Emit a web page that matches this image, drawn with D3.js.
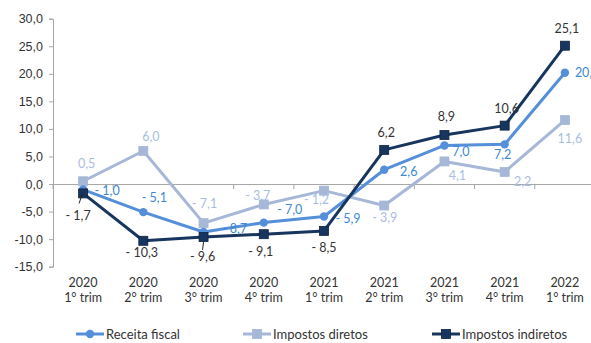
<!DOCTYPE html>
<html>
<head>
<meta charset="utf-8">
<script src="https://cdn.jsdelivr.net/npm/d3@7"></script>
<style>
  html, body { margin: 0; padding: 0; background: #fff; }
  svg { display: block; font-family: "Lato", "DejaVu Sans", sans-serif; }
</style>
</head>
<body>
<svg id="chart" width="591" height="343"></svg>
<script>
// Quarterly year-on-year variation (%)
const years = ["2020", "2020", "2020", "2020", "2021", "2021", "2021", "2021", "2022"];
const quarters = ["1° trim", "2° trim", "3° trim", "4° trim", "1° trim", "2° trim", "3° trim", "4° trim", "1° trim"];
const receitaFiscal = [-1.0, -5.1, -8.7, -7.0, -5.9, 2.6, 7.0, 7.2, 20.2];
const impostosDiretos = [0.5, 6.0, -7.1, -3.7, -1.2, -3.9, 4.1, 2.2, 11.6];
const impostosIndiretos = [-1.7, -10.3, -9.6, -9.1, -8.5, 6.2, 8.9, 10.6, 25.1];
const yTicks = [-15, -10, -5, 0, 5, 10, 15, 20, 25, 30];
const seriesNames = ["Receita fiscal", "Impostos diretos", "Impostos indiretos"];

// Label placement per point: [dx, dy] of the label centre from the marker
const labelPos = {
  receita: [[24, 0.5], [11, -14.5], [31, -3], [26, -13.6], [24, 1.5], [24.5, 1.3], [16.5, 6.3], [-2, 9.7], [null, 0]],
  diretos: [[3.5, -18], [7.5, -14], [1, -19.4], [-6, -9.4], [-7.5, 8.7], [0.5, 11.8], [13, 13.6], [18, 10], [5, 18]],
  indiretos: [[-5, 21.6], [-1.5, 12], [-1, 19.8], [-3, 17.6], [0, 17], [2, -17], [2, -18], [2, -17.6], [2, -17.7]]
};

const fmt = v => (v < 0 ? "- " : "") + d3.format(".1f")(Math.abs(v)).replace(".", ",");

const svg = d3.select("#chart");
const margin = { left: 53, right: -4, top: 18.7, bottom: 76.3 };
const W = 591, H = 343;
const FS = 12.5;

const x = d3.scaleBand()
  .domain(d3.range(years.length))
  .range([margin.left, W - margin.right])
  .paddingInner(0).paddingOuter(0);

const y = d3.scaleLinear()
  .domain([-15, 30])
  .range([H - margin.bottom, margin.top]);

const cx = i => x(i) + x.bandwidth() / 2;

// Y axis
const yAxis = d3.axisLeft(y)
  .tickValues(yTicks)
  .tickSize(4)
  .tickPadding(6)
  .tickFormat(d => d3.format(".1f")(d).replace(".", ",").replace("−", "-"));
const yg = svg.append("g").attr("transform", `translate(${margin.left},0)`).call(yAxis);
yg.select(".domain").attr("stroke", "#a6a6a6").attr("stroke-width", 1);
yg.selectAll(".tick line").attr("stroke", "#a6a6a6");
yg.selectAll(".tick text").attr("fill", "#333").attr("font-size", FS);

// Zero line with category separators
const xAxis = d3.axisBottom(x).tickValues([]).tickSizeOuter(0);
const xg = svg.append("g").attr("transform", `translate(0,${y(0)})`).call(xAxis);
xg.select(".domain").attr("stroke", "#a6a6a6").attr("stroke-width", 1);
xg.selectAll(".sep")
  .data(d3.range(years.length + 1))
  .join("line")
  .attr("class", "sep")
  .attr("x1", i => margin.left + i * x.step())
  .attr("x2", i => margin.left + i * x.step())
  .attr("y1", 0).attr("y2", 5)
  .attr("stroke", "#a6a6a6");

// Category labels (two lines)
const cats = svg.append("g").attr("fill", "#333").attr("font-size", FS).attr("text-anchor", "middle");
cats.selectAll(".yr").data(years).join("text")
  .attr("class", "yr")
  .attr("x", (d, i) => cx(i)).attr("y", 287).text(d => d);
cats.selectAll(".qt").data(quarters).join("text")
  .attr("class", "qt")
  .attr("x", (d, i) => cx(i)).attr("y", 302).text(d => d);

const series = [
  { key: "diretos", values: impostosDiretos, color: "#a7b7d8", label: "#a9bde2", marker: "square", edge: "#a7b7d8" },
  { key: "receita", values: receitaFiscal, color: "#558ed9", label: "#3d88d2", marker: "circle", edge: "#558ed9" },
  { key: "indiretos", values: impostosIndiretos, color: "#17355e", label: "#333333", marker: "square", edge: "#0e2440" }
];

const line = d3.line().x((d, i) => cx(i)).y(d => y(d));

function drawMarker(g, s, px, py) {
  if (s.marker === "circle") {
    g.append("circle").attr("cx", px).attr("cy", py).attr("r", 4.2).attr("fill", s.color);
  } else {
    g.append("rect").attr("x", px - 4.5).attr("y", py - 4.5).attr("width", 9).attr("height", 9)
      .attr("fill", s.color).attr("stroke", s.edge).attr("stroke-width", 0.8);
  }
}

series.forEach(s => {
  const g = svg.append("g");
  g.append("path").datum(s.values).attr("d", line)
    .attr("fill", "none").attr("stroke", s.color).attr("stroke-width", 3).attr("stroke-linejoin", "round");
  s.values.forEach((v, i) => drawMarker(g, s, cx(i), y(v)));
});

// Leader lines for labels pushed away from their markers
const leaders = svg.append("g").attr("stroke", "#222").attr("stroke-width", 1);
[[0, -4, 10, -0.7, 0], [2, -1, 13, 0, 4.8]].forEach(([i, x1, y1, x2, y2]) => {
  const px = cx(i), py = y(impostosIndiretos[i]);
  leaders.append("line")
    .attr("x1", px + x1).attr("y1", py + y1)
    .attr("x2", px + x2).attr("y2", py + y2);
});

// Data labels
series.forEach(s => {
  svg.append("g").attr("fill", s.label).attr("font-size", FS)
    .selectAll("text").data(s.values).join("text")
    .attr("text-anchor", (d, i) => labelPos[s.key][i][0] === null ? "start" : "middle")
    .attr("x", (d, i) => labelPos[s.key][i][0] === null ? cx(i) + 10 : cx(i) + labelPos[s.key][i][0])
    .attr("y", (d, i) => y(d) + labelPos[s.key][i][1] + 4.5)
    .text(d => fmt(d));
});

// Legend
const legendItems = [
  { name: seriesNames[0], s: series[1], x0: 76 },
  { name: seriesNames[1], s: series[0], x0: 243 },
  { name: seriesNames[2], s: series[2], x0: 432 }
];
const lg = svg.append("g");
legendItems.forEach(it => {
  const ly = 334;
  lg.append("line").attr("x1", it.x0).attr("x2", it.x0 + 28).attr("y1", ly).attr("y2", ly)
    .attr("stroke", it.s.color).attr("stroke-width", 3);
  drawMarker(lg, it.s, it.x0 + 14, ly);
  lg.append("text").attr("x", it.x0 + 30).attr("y", ly + 4.5)
    .attr("font-size", 13).attr("fill", "#333").text(it.name);
});
</script>
</body>
</html>
